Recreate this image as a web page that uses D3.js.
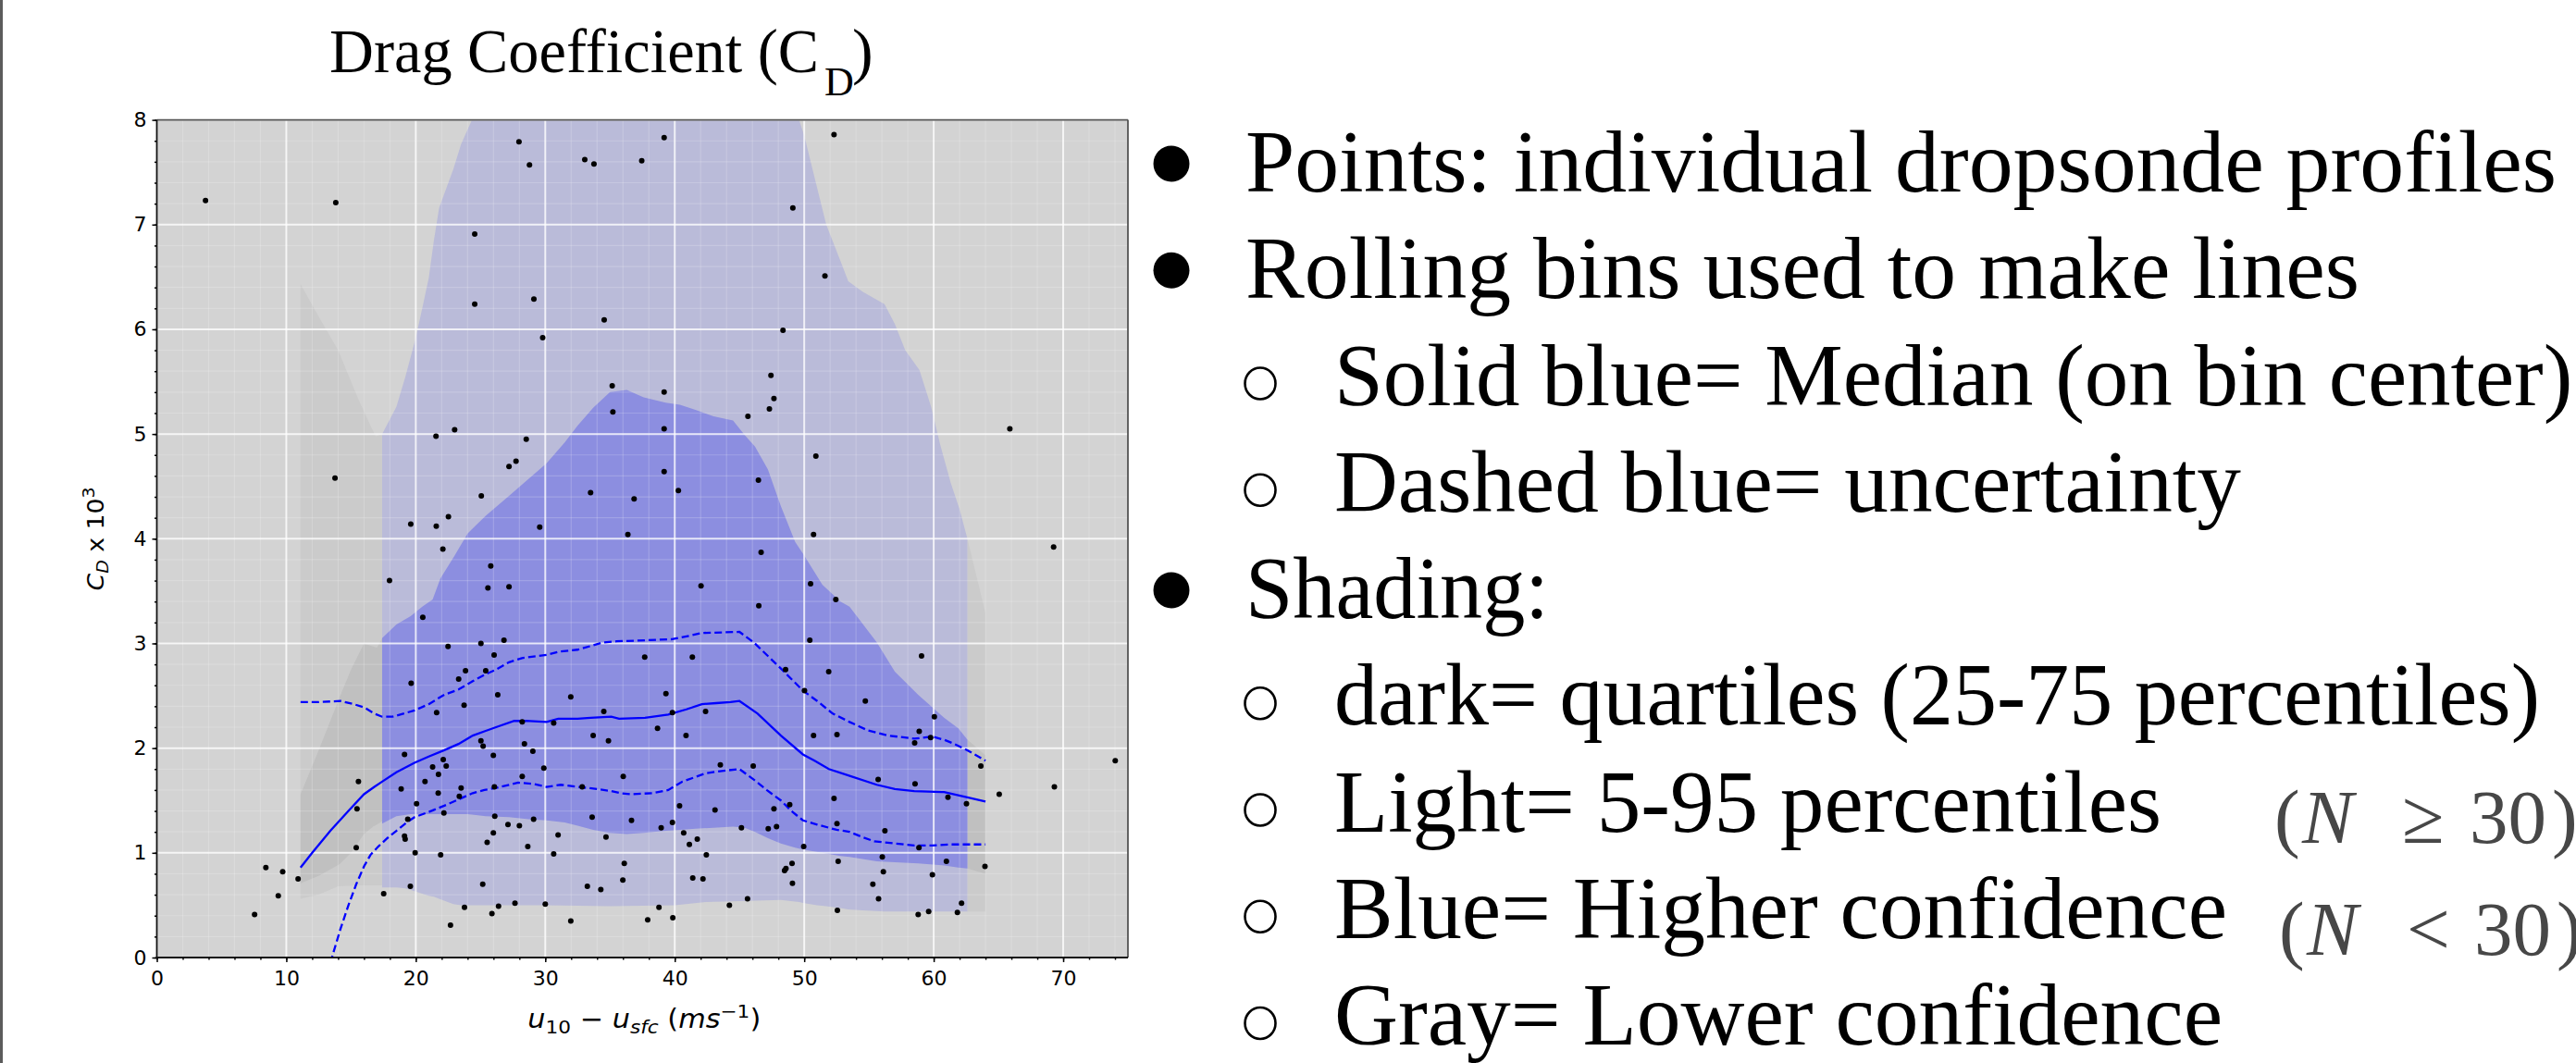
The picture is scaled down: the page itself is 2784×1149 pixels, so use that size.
<!DOCTYPE html>
<html>
<head>
<meta charset="utf-8">
<script src="https://cdn.jsdelivr.net/npm/d3@7"></script>
<style>
body { margin: 0; background: #fff; }
svg { display: block; }
</style>
</head>
<body>
<svg id="chart_svg" width="2784" height="1149"></svg>
<script>
var x_ticks = [0, 10, 20, 30, 40, 50, 60, 70];
var y_ticks = [0, 1, 2, 3, 4, 5, 6, 7, 8];
var x_minor = d3.range(0, 76, 2);
var y_minor = d3.range(0, 8.01, 0.2);

// individual dropsonde profiles [u10 - usfc, Cd x 10^3]
var points = [
    [3.76,7.23],[13.82,7.21],[13.76,4.58],[24.55,6.91],[24.55,6.24],[27.97,7.79],[28.78,7.57],[29.12,6.29],
    [29.80,5.92],[33.05,7.62],[33.76,7.58],[37.45,7.61],[39.18,7.83],[34.55,6.09],[35.17,5.46],[35.22,5.21],
    [39.18,5.40],[39.18,5.05],[39.18,4.64],[21.56,4.98],[23.00,5.04],[28.53,4.95],[27.20,4.69],[27.74,4.74],
    [25.06,4.41],[19.61,4.14],[21.58,4.12],[22.52,4.21],[22.09,3.90],[29.57,4.11],[33.50,4.44],[36.86,4.38],
    [36.38,4.04],[17.97,3.60],[25.79,3.74],[25.57,3.53],[27.20,3.54],
    [52.30,7.86],[49.12,7.16],[51.60,6.51],[48.36,5.99],[47.43,5.56],[47.66,5.34],[47.31,5.24],[45.65,5.17],
    [65.88,5.05],[50.90,4.79],[46.46,4.56],[40.28,4.46],[50.72,4.04],[69.26,3.92],[46.67,3.87],[42.03,3.55],
    [50.49,3.57],[52.44,3.42],[46.49,3.36],
    [20.54,3.25],[22.49,2.97],[25.03,3.00],[26.81,3.03],[26.05,2.89],[23.31,2.66],[23.84,2.74],[25.40,2.74],
    [19.64,2.62],[26.33,2.51],[23.73,2.41],[21.61,2.34],[31.97,2.49],[28.22,2.25],[30.65,2.24],[34.52,2.35],
    [37.68,2.87],[39.32,2.52],[38.67,2.19],[33.70,2.12],[34.88,2.07],[25.03,2.07],[25.20,2.02],[28.39,2.04],
    [29.04,1.97],[25.99,1.93],[19.13,1.94],[22.12,1.89],[21.30,1.82],[22.35,1.83],[29.89,1.81],[21.75,1.75],
    [15.57,1.68],[20.71,1.68],[28.22,1.73],[36.02,1.73],[18.87,1.61],[23.50,1.62],[26.07,1.63],[32.85,1.63],
    [21.73,1.57],[23.36,1.54],[20.06,1.47],[15.46,1.42],[22.17,1.38],[26.10,1.35],[33.62,1.34],[19.38,1.32],
    [29.10,1.32],[36.66,1.31],[38.95,1.24],[27.12,1.27],[28.00,1.26],[25.99,1.19],[30.99,1.17],[34.69,1.15],
    [19.13,1.16],[19.18,1.13],[25.51,1.10],[28.65,1.06],[15.40,1.05],[19.95,1.00],[21.92,0.98],[30.65,0.99],
    [36.10,0.90],[35.99,0.74],[8.42,0.86],[9.72,0.82],[10.91,0.75],[9.38,0.59],[7.55,0.41],[17.52,0.61],
    [19.58,0.68],[25.17,0.70],[23.76,0.48],[25.88,0.42],[26.39,0.49],[27.66,0.52],[30.00,0.51],[22.68,0.31],
    [31.97,0.35],[33.25,0.68],[34.29,0.65],[37.91,0.36],[38.78,0.48],
    [50.43,3.03],[41.36,2.87],[59.06,2.88],[48.56,2.75],[51.89,2.73],[50.02,2.55],[54.72,2.45],[42.38,2.35],
    [39.82,2.34],[60.05,2.30],[40.87,2.12],[50.72,2.12],[52.53,2.13],[58.88,2.16],[58.53,2.05],[59.76,2.10],
    [63.64,1.83],[74.02,1.88],[43.52,1.84],[46.06,1.83],[55.71,1.70],[58.56,1.66],[69.32,1.63],[65.06,1.56],
    [52.30,1.52],[61.10,1.53],[48.88,1.46],[62.53,1.47],[40.37,1.45],[47.66,1.42],[43.11,1.41],[52.53,1.28],
    [39.82,1.29],[45.15,1.24],[47.22,1.23],[47.86,1.25],[56.23,1.21],[40.69,1.19],[41.74,1.13],[41.13,1.08],
    [49.96,1.06],[58.86,1.05],[42.44,0.98],[56.03,0.96],[60.98,0.92],[52.62,0.92],[49.06,0.90],[48.59,0.85],
    [48.48,0.83],[56.11,0.82],[63.96,0.87],[59.90,0.79],[41.39,0.76],[42.18,0.75],[49.09,0.71],[55.30,0.70],
    [55.74,0.56],[45.62,0.56],[44.22,0.50],[62.15,0.52],[52.56,0.45],[59.61,0.44],[61.83,0.43],[58.80,0.41],
    [39.85,0.38]
];

// rolling-bin median and uncertainty
var median_line = [
    [11.1,0.86],[12.0,1.00],[13.4,1.21],[14.8,1.40],[16.0,1.56],[16.8,1.63],[17.4,1.68],[18.5,1.77],
    [19.9,1.86],[21.0,1.92],[22.2,1.98],[23.3,2.04],[24.4,2.12],[25.3,2.16],[26.2,2.20],[27.6,2.26],
    [28.5,2.26],[30.1,2.25],[31.0,2.28],[32.5,2.28],[33.5,2.29],[35.1,2.30],[35.7,2.28],[37.7,2.29],
    [39.5,2.32],[40.9,2.37],[42.1,2.42],[43.2,2.43],[44.3,2.44],[45.0,2.45],[46.4,2.33],[48.2,2.12],
    [49.9,1.94],[50.8,1.88],[51.9,1.80],[53.4,1.74],[55.6,1.65],[57.0,1.61],[58.5,1.59],[60.8,1.58],
    [62.6,1.53],[64.0,1.49]
];
var upper_dash = [
    [11.1,2.44],[12.5,2.44],[14.2,2.45],[15.2,2.42],[16.0,2.39],[16.8,2.33],[17.4,2.30],[18.2,2.30],
    [19.9,2.36],[21.0,2.42],[22.2,2.51],[23.3,2.56],[24.4,2.64],[25.3,2.70],[26.2,2.75],[27.2,2.82],
    [28.2,2.86],[30.1,2.89],[31.0,2.92],[32.5,2.94],[34.5,3.01],[35.5,3.02],[37.7,3.03],[39.8,3.04],
    [41.0,3.07],[42.1,3.10],[45.0,3.11],[46.1,3.01],[48.2,2.76],[49.9,2.55],[51.0,2.45],[52.2,2.33],
    [53.5,2.25],[54.9,2.17],[56.5,2.12],[58.5,2.09],[59.9,2.11],[60.8,2.08],[61.6,2.04],[62.6,1.98],
    [64.0,1.88]
];
var lower_dash = [
    [13.4,-0.05],[14.2,0.28],[14.8,0.50],[15.4,0.70],[16.0,0.87],[16.5,0.98],[17.1,1.06],[17.8,1.14],
    [18.5,1.21],[19.3,1.29],[19.9,1.34],[21.0,1.39],[22.2,1.45],[23.3,1.51],[24.4,1.57],[25.3,1.60],
    [26.2,1.62],[27.9,1.67],[29.0,1.66],[30.1,1.63],[31.2,1.65],[32.5,1.63],[34.0,1.61],[35.1,1.59],
    [35.8,1.57],[36.6,1.56],[38.3,1.57],[39.5,1.60],[40.6,1.68],[41.5,1.72],[42.4,1.76],[43.5,1.78],
    [45.0,1.80],[46.1,1.70],[47.1,1.60],[48.2,1.50],[49.0,1.40],[49.9,1.31],[51.0,1.27],[52.5,1.22],
    [53.5,1.20],[54.5,1.15],[55.4,1.11],[57.0,1.09],[58.5,1.07],[59.9,1.07],[61.3,1.08],[62.6,1.08],
    [64.0,1.08]
];

// shading bands [x, low, high]; N >= 30 (blue)
var blue_outer = [
    [17.4,0.67,5.00],[18.5,0.67,5.26],[19.2,0.66,5.55],[20.0,0.63,5.92],[20.5,0.61,6.20],[21.0,0.59,6.49],
    [21.4,0.58,6.85],[21.8,0.56,7.16],[22.9,0.51,7.53],[23.5,0.50,7.77],[24.3,0.50,7.99],[25.0,0.50,8.30],
    [30.0,0.50,8.60],[35.0,0.49,8.60],[40.0,0.50,8.60],[42.4,0.53,8.60],[45.0,0.54,8.60],[48.2,0.55,8.40],
    [49.6,0.53,8.00],[50.0,0.52,7.85],[51.0,0.50,7.35],[51.7,0.49,7.00],[52.9,0.47,6.62],[53.4,0.46,6.46],
    [54.5,0.45,6.36],[56.2,0.44,6.24],[57.0,0.44,6.05],[57.8,0.44,5.80],[58.9,0.44,5.61],[59.8,0.44,5.26],
    [60.5,0.44,4.90],[61.3,0.44,4.54],[62.0,0.44,4.28],[62.6,0.44,4.00]
];
var blue_inner = [
    [17.4,1.28,3.05],[18.5,1.35,3.18],[19.6,1.37,3.26],[20.5,1.37,3.35],[21.3,1.37,3.42],[21.9,1.37,3.62],
    [23.0,1.37,3.84],[24.0,1.37,4.05],[25.4,1.35,4.22],[27.2,1.34,4.41],[28.7,1.32,4.57],[30.1,1.31,4.72],
    [31.5,1.29,4.92],[32.5,1.26,5.08],[33.7,1.22,5.25],[35.0,1.19,5.40],[36.3,1.18,5.42],[37.6,1.19,5.35],
    [39.3,1.21,5.30],[40.4,1.22,5.28],[41.6,1.23,5.23],[43.0,1.24,5.17],[44.5,1.25,5.13],[45.4,1.24,4.99],
    [46.2,1.20,4.88],[47.2,1.14,4.66],[48.2,1.09,4.31],[49.3,1.05,3.97],[50.0,1.03,3.84],[51.4,1.00,3.56],
    [52.8,0.97,3.40],[53.5,0.96,3.35],[55.6,0.92,3.01],[57.0,0.91,2.73],[58.8,0.90,2.51],[60.8,0.88,2.29],
    [61.9,0.86,2.19],[62.6,0.85,2.08]
];
// N < 30 (gray)
var gray_outer_left = [
    [11.1,0.56,6.43],[12.5,0.60,6.12],[14.0,0.68,5.80],[15.5,0.69,5.35],[16.5,0.69,5.08],[16.9,0.69,4.98],
    [17.4,0.69,5.00]
];
var gray_inner_left = [
    [11.1,0.71,1.56],[12.5,0.78,1.98],[14.1,0.89,2.48],[15.0,1.00,2.75],[16.0,1.18,3.00],[16.7,1.25,2.97],
    [17.0,1.27,2.96],[17.4,1.30,3.05]
];
var gray_outer_right = [[62.6,0.44,4.00],[64.0,0.44,3.29]];
var gray_inner_right = [[62.6,0.85,2.08],[64.0,0.80,1.93]];

var bullet_lines = [
    [0, "Points: individual dropsonde profiles"],
    [0, "Rolling bins used to make lines"],
    [1, "Solid blue= Median (on bin center)"],
    [1, "Dashed blue= uncertainty"],
    [0, "Shading:"],
    [1, "dark= quartiles (25-75 percentiles)"],
    [1, "Light= 5-95 percentiles"],
    [1, "Blue= Higher confidence"],
    [1, "Gray= Lower confidence"]
];
var n_notes = [["\u2265", "30"], ["<", "30"]];

// layout
var plot_left = 169.5, plot_right = 1219, plot_top = 129.6, plot_bottom = 1035;
var bullet_fit = [1417, 1204, 0, 980, 328, 1303, 894, 965, 960];

var svg = d3.select("#chart_svg");
svg.append("rect").attr("width", 2784).attr("height", 1149).attr("fill", "#fff");
svg.append("rect").attr("x", 0).attr("y", 0).attr("width", 3).attr("height", 1149).attr("fill", "#5c5c5c");

var x = d3.scaleLinear().domain([0, 75]).range([plot_left, plot_right]);
var y = d3.scaleLinear().domain([0, 8]).range([plot_bottom, plot_top]);

svg.append("clipPath").attr("id", "plot_clip")
    .append("rect")
    .attr("x", plot_left).attr("y", plot_top)
    .attr("width", plot_right - plot_left).attr("height", plot_bottom - plot_top);

svg.append("rect")
    .attr("x", plot_left).attr("y", plot_top)
    .attr("width", plot_right - plot_left).attr("height", plot_bottom - plot_top)
    .attr("fill", "#d3d3d3");

var plot = svg.append("g").attr("clip-path", "url(#plot_clip)");

var band = d3.area()
    .x(function(d) { return x(d[0]); })
    .y0(function(d) { return y(d[1]); })
    .y1(function(d) { return y(d[2]); });

function draw_band(data, colour) {
    plot.append("path").attr("d", band(data)).attr("fill", colour);
}
draw_band(gray_outer_left, "#cbcbcb");
draw_band(gray_outer_right, "#cbcbcb");
draw_band(gray_inner_left, "#c0c0c0");
draw_band(gray_inner_right, "#c0c0c0");
draw_band(blue_outer, "#babbd9");
draw_band(blue_inner, "#8c8ee0");

// grid
plot.selectAll(".minor_x").data(x_minor).enter().append("line")
    .attr("x1", function(d) { return x(d); }).attr("x2", function(d) { return x(d); })
    .attr("y1", plot_top).attr("y2", plot_bottom)
    .attr("stroke", "#fff").attr("stroke-opacity", 0.18).attr("stroke-width", 1.2);
plot.selectAll(".minor_y").data(y_minor).enter().append("line")
    .attr("y1", function(d) { return y(d); }).attr("y2", function(d) { return y(d); })
    .attr("x1", plot_left).attr("x2", plot_right)
    .attr("stroke", "#fff").attr("stroke-opacity", 0.18).attr("stroke-width", 1.2);
plot.selectAll(".major_x").data(x_ticks).enter().append("line")
    .attr("x1", function(d) { return x(d); }).attr("x2", function(d) { return x(d); })
    .attr("y1", plot_top).attr("y2", plot_bottom)
    .attr("stroke", "#fff").attr("stroke-opacity", 0.75).attr("stroke-width", 2);
plot.selectAll(".major_y").data(y_ticks).enter().append("line")
    .attr("y1", function(d) { return y(d); }).attr("y2", function(d) { return y(d); })
    .attr("x1", plot_left).attr("x2", plot_right)
    .attr("stroke", "#fff").attr("stroke-opacity", 0.75).attr("stroke-width", 2);

var line = d3.line()
    .x(function(d) { return x(d[0]); })
    .y(function(d) { return y(d[1]); });

plot.append("path").attr("d", line(median_line))
    .attr("fill", "none").attr("stroke", "#0000ff").attr("stroke-width", 2.3);
[upper_dash, lower_dash].forEach(function(series) {
    plot.append("path").attr("d", line(series))
        .attr("fill", "none").attr("stroke", "#0000ff").attr("stroke-width", 2.3)
        .attr("stroke-dasharray", "8,4");
});

plot.selectAll(".dot").data(points).enter().append("circle")
    .attr("cx", function(d) { return x(d[0]); })
    .attr("cy", function(d) { return y(d[1]); })
    .attr("r", 3)
    .attr("fill", "#000");

// axes
var x_axis = svg.append("g").attr("transform", "translate(0," + plot_bottom + ")")
    .call(d3.axisBottom(x).tickValues(x_ticks).tickSize(5).tickPadding(9).tickSizeOuter(0));
var x_axis_minor = svg.append("g").attr("transform", "translate(0," + plot_bottom + ")")
    .call(d3.axisBottom(x).tickValues(x_minor).tickSize(2.5).tickFormat("").tickSizeOuter(0));
var y_axis = svg.append("g").attr("transform", "translate(" + plot_left + ",0)")
    .call(d3.axisLeft(y).tickValues(y_ticks).tickSize(5).tickPadding(6).tickSizeOuter(0));
var y_axis_minor = svg.append("g").attr("transform", "translate(" + plot_left + ",0)")
    .call(d3.axisLeft(y).tickValues(y_minor).tickSize(2.5).tickFormat("").tickSizeOuter(0));

[x_axis, x_axis_minor, y_axis, y_axis_minor].forEach(function(ax) {
    ax.select(".domain").remove();
    ax.selectAll("line").attr("stroke", "#000").attr("stroke-width", 1.5);
    ax.selectAll("text")
        .attr("fill", "#000")
        .style("font-family", "'DejaVu Sans', sans-serif")
        .style("font-size", "22px");
});

// frame
svg.append("line").attr("x1", plot_left).attr("x2", plot_right).attr("y1", plot_top).attr("y2", plot_top)
    .attr("stroke", "#555").attr("stroke-width", 1.8);
svg.append("line").attr("x1", plot_right).attr("x2", plot_right).attr("y1", plot_top).attr("y2", plot_bottom)
    .attr("stroke", "#555").attr("stroke-width", 1.8);
svg.append("line").attr("x1", plot_left).attr("x2", plot_left).attr("y1", plot_top).attr("y2", plot_bottom + 0.9)
    .attr("stroke", "#111").attr("stroke-width", 1.8);
svg.append("line").attr("x1", plot_left - 0.9).attr("x2", plot_right).attr("y1", plot_bottom).attr("y2", plot_bottom)
    .attr("stroke", "#111").attr("stroke-width", 1.8);

// axis labels
var x_label = svg.append("text")
    .attr("x", (plot_left + plot_right) / 2 + 2).attr("y", 1111)
    .attr("text-anchor", "middle")
    .attr("textLength", 252).attr("lengthAdjust", "spacingAndGlyphs")
    .style("font-family", "'DejaVu Sans', sans-serif").style("font-size", "28px");
x_label.append("tspan").style("font-style", "italic").text("u");
x_label.append("tspan").attr("dy", 6).style("font-size", "20px").text("10");
x_label.append("tspan").attr("dy", -6).text(" \u2212 ");
x_label.append("tspan").style("font-style", "italic").text("u");
x_label.append("tspan").attr("dy", 6).style("font-size", "20px").style("font-style", "italic").text("sfc");
x_label.append("tspan").attr("dy", -6).text(" (");
x_label.append("tspan").style("font-style", "italic").text("ms");
x_label.append("tspan").attr("dy", -11).style("font-size", "20px").text("\u22121");
x_label.append("tspan").attr("dy", 11).text(")");

var y_label = svg.append("text")
    .attr("transform", "translate(111.5,582.5) rotate(-90)")
    .attr("text-anchor", "middle")
    .attr("textLength", 112).attr("lengthAdjust", "spacingAndGlyphs")
    .style("font-family", "'DejaVu Sans', sans-serif").style("font-size", "24px");
y_label.append("tspan").style("font-style", "italic").text("C");
y_label.append("tspan").attr("dy", 5).style("font-size", "17px").style("font-style", "italic").text("D");
y_label.append("tspan").attr("dy", -5).text(" x 10");
y_label.append("tspan").attr("dy", -10).style("font-size", "17px").text("3");

// title
var title = svg.append("text")
    .attr("x", 356).attr("y", 78)
    .style("font-family", "'Liberation Serif', 'Times New Roman', serif").style("font-size", "68px");
title.append("tspan").attr("textLength", 529).attr("lengthAdjust", "spacingAndGlyphs").text("Drag Coefficient (C");
title.append("tspan").attr("x", 891).attr("dy", 25).style("font-size", "44px").text("D");
title.append("tspan").attr("x", 921).attr("dy", -25).text(")");

// bullet list
var text_group = svg.append("g")
    .style("font-family", "'Liberation Serif', 'Times New Roman', serif")
    .style("font-size", "95px");
bullet_lines.forEach(function(item, i) {
    var baseline = 207 + i * 115.25;
    var level = item[0];
    if (level === 0) {
        text_group.append("circle").attr("cx", 1266).attr("cy", baseline - 30).attr("r", 19.5).attr("fill", "#000");
    } else {
        text_group.append("ellipse").attr("cx", 1362).attr("cy", baseline - 23).attr("rx", 16.5).attr("ry", 17)
            .attr("fill", "none").attr("stroke", "#000").attr("stroke-width", 2.6);
    }
    var t = text_group.append("text")
        .attr("x", level === 0 ? 1346 : 1442)
        .attr("y", baseline)
        .attr("fill", "#000")
        .text(item[1]);
    if (bullet_fit[i] > 0) {
        t.attr("textLength", bullet_fit[i]).attr("lengthAdjust", "spacingAndGlyphs");
    }
});

// N notes
n_notes.forEach(function(note, i) {
    var baseline = i === 0 ? 911 : 1032;
    var x0 = i === 0 ? 2458 : 2463;
    var t = svg.append("text")
        .attr("y", baseline)
        .attr("fill", "#333")
        .attr("fill-opacity", 0.9)
        .style("font-family", "'Liberation Serif', 'Times New Roman', serif")
        .style("font-size", "83px");
    t.append("tspan").attr("x", x0).text("(");
    t.append("tspan").attr("x", x0 + 30).style("font-style", "italic").text("N");
    t.append("tspan").attr("x", x0 + 138).text(note[0]);
    t.append("tspan").attr("x", x0 + 211).text(note[1]);
    t.append("tspan").attr("x", x0 + 300).text(")");
});
</script>
</body>
</html>
